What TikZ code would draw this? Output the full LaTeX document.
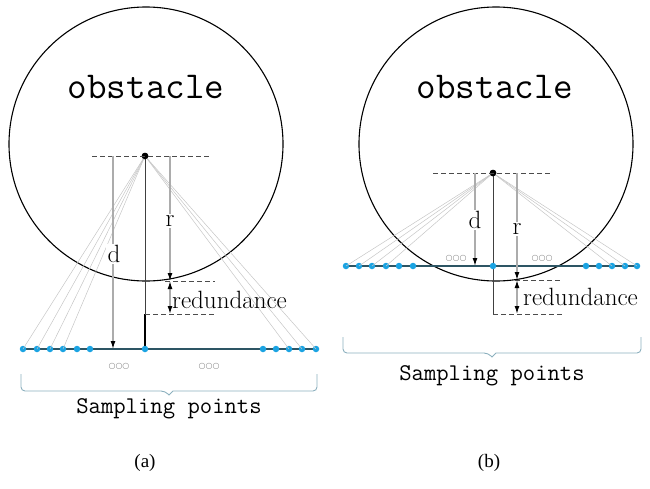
\documentclass[tikz,border=0pt]{standalone}
\usepackage{fontspec}
\usetikzlibrary{arrows.meta}
\newfontfamily\capfont{Liberation Serif}
\newfontfamily\symfont{DejaVu Sans}
\definecolor{sampleblue}{RGB}{27,163,226}
\definecolor{lineslate}{RGB}{45,85,100}
\definecolor{bracegray}{RGB}{140,176,190}

\tikzset{
  sdot/.style={circle, fill=sampleblue, inner sep=0pt, minimum size=6.5pt},
  cdot/.style={circle, fill=black, inner sep=0pt, minimum size=6.5pt},
  guide/.style={dash pattern=on 5pt off 3pt, gray!60!black, line width=0.8pt},
  fan/.style={gray!45, line width=0.5pt},
  dimarrow/.style={gray!65, line width=1.3pt,
    -{Latex[length=8pt,width=5pt,color=black]}},
  twoarrow/.style={gray!65, line width=1.3pt,
    {Latex[length=8pt,width=5pt,color=black]}-{Latex[length=8pt,width=5pt,color=black]}},
  dimlabel/.style={font=\fontsize{25}{27}\selectfont, fill=white, inner sep=1.5pt},
  obsfont/.style={font=\fontsize{38}{40}\selectfont\ttfamily},
  samplefont/.style={font=\fontsize{24}{26}\selectfont\ttfamily},
  dotsfont/.style={font=\fontsize{8}{9}\selectfont\symfont, text=gray},
  capfont/.style={font=\fontsize{19}{21}\selectfont\capfont}
}

\begin{document}
\begin{tikzpicture}[x=1pt, y=-1pt]
  \useasboundingbox (0,0) rectangle (650,488);
  % Left: line of samples below the obstacle
  \begin{scope}[shift={(145,0)}]
    % Obstacle
    \draw[line width=1.1pt] (1,144) circle (137);
    \node[obsfont, anchor=base] (aObs) at (1,98) {obstacle};
    % Levels
    \node[cdot] (aC) at (0,156) {};
    \coordinate (aB) at (0,281);
    \coordinate (aR) at (0,314);
    \coordinate (aS) at (0,349);
    % Sampling points
    \draw[lineslate, line width=1.3pt] (-122,349) -- (171,349);
    \foreach \x [count=\i] in {-122,-108,-95,-82,-68,-55}
      \node[sdot] (aL\i) at (\x,349) {};
    \foreach \x [count=\i] in {118,131,144,157,171}
      \node[sdot] (aR\i) at (\x,349) {};
    \foreach \i in {1,...,4} \draw[fan] (aC.center) -- (aL\i.center);
    \foreach \i in {3,4,5} \draw[fan] (aC.center) -- (aR\i.center);
    % Centre line
    \draw[gray!50!black, line width=1pt] (aC.center) -- (aR);
    \draw[black, line width=1.5pt] (aR) -- (aS);
    \node[sdot] (aM) at (aS) {};
    \node[cdot] at (aC) {};
    % Dashed levels
    \draw[guide] ([xshift=-53pt]aC.center) -- ([xshift=65pt]aC.center);
    \draw[guide] ([xshift=20pt]aB) -- ([xshift=70pt]aB);
    \draw[guide] (aR) -- ([xshift=70pt]aR);
    % Dimensions
    \draw[dimarrow] ([xshift=-32pt]aC.center) -- ([xshift=-32pt]aS);
    \node[dimlabel] (aD) at (-31,254) {d};
    \draw[dimarrow] ([xshift=25pt]aC.center) -- ([xshift=25pt]aB);
    \node[dimlabel] (aRad) at (25,221) {r};
    \draw[twoarrow] ([xshift=25pt]aB) -- ([xshift=25pt]aR);
    \node[font=\fontsize{25}{27}\selectfont, anchor=west, inner sep=0pt] (aRed) at (27,300) {redundance};
    % Brace and caption
    \node[dotsfont] (aDots1) at (-26,366) {○○○};
    \node[dotsfont] (aDots2) at (64,366) {○○○};
    \draw[bracegray, line width=0.9pt] (-124,374) [rounded corners=4pt] -- (-124,391) -- (20,391)
      [sharp corners] -- (24,395) -- (28,391) [rounded corners=4pt] -- (172,391) -- (172,374);
    \node[samplefont] (aSmp) at (24,409) {Sampling points};
    \node[capfont] (aCap) at (0,463) {(a)};
  \end{scope}
  % Right: line of samples cutting the obstacle
  \begin{scope}[shift={(493,0)}]
    % Obstacle
    \draw[line width=1.1pt] (3,144) circle (137);
    \node[obsfont, anchor=base] (bObs) at (2,98) {obstacle};
    % Levels
    \node[cdot] (bC) at (0,173) {};
    \coordinate (bB) at (0,280);
    \coordinate (bR) at (0,314);
    \coordinate (bS) at (0,266);
    % Sampling points
    \draw[lineslate, line width=1.3pt] (-147,266) -- (144,266);
    \foreach \x [count=\i] in {-147,-134,-121,-107,-94,-80}
      \node[sdot] (bL\i) at (\x,266) {};
    \foreach \x [count=\i] in {93,106,119,132,144}
      \node[sdot] (bR\i) at (\x,266) {};
    \foreach \i in {1,...,4} \draw[fan] (bC.center) -- (bL\i.center);
    \foreach \i in {3,4,5} \draw[fan] (bC.center) -- (bR\i.center);
    % Centre line
    \draw[gray!50!black, line width=1pt] (bC.center) -- (bR);
    \node[sdot] (bM) at (bS) {};
    \node[cdot] at (bC) {};
    % Dashed levels
    \draw[guide] ([xshift=-60pt]bC.center) -- ([xshift=59pt]bC.center);
    \draw[guide] ([xshift=22pt]bB) -- ([xshift=67pt]bB);
    \draw[guide] (bR) -- ([xshift=70pt]bR);
    % Dimensions
    \draw[dimarrow] ([xshift=-18pt]bC.center) -- ([xshift=-18pt]bS);
    \node[dimlabel] (bD) at (-18,220) {d};
    \draw[dimarrow] ([xshift=24pt]bC.center) -- ([xshift=24pt]bB);
    \node[dimlabel] (bRad) at (24,229) {r};
    \draw[twoarrow] ([xshift=24pt]bB) -- ([xshift=24pt]bR);
    \node[font=\fontsize{25}{27}\selectfont, anchor=west, inner sep=0pt] (bRed) at (30,297) {redundance};
    % Brace and caption
    \node[dotsfont] (bDots1) at (-37,258) {○○○};
    \node[dotsfont] (bDots2) at (49,258) {○○○};
    \draw[bracegray, line width=0.9pt] (-150,337) [rounded corners=4pt] -- (-150,353) -- (-5,353)
      [sharp corners] -- (-1,357) -- (3,353) [rounded corners=4pt] -- (148,353) -- (148,337);
    \node[samplefont] (bSmp) at (-1,376) {Sampling points};
    \node[capfont] (bCap) at (-4,463) {(b)};
  \end{scope}
\end{tikzpicture}
\end{document}
